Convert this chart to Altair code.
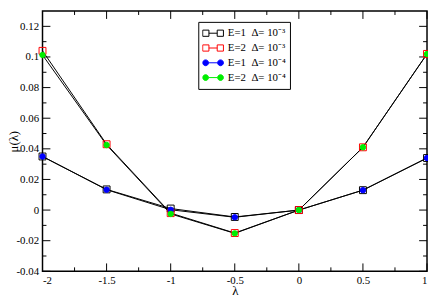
import altair as alt
import pandas as pd

# ---- data ----
lam = [-2.0, -1.5, -1.0, -0.5, 0.0, 0.5, 1.0]
series_names = [
    "E=1\u00a0\u00a0\u0394=\u00a010\u207b\u00b3",
    "E=2\u00a0\u00a0\u0394=\u00a010\u207b\u00b3",
    "E=1\u00a0\u00a0\u0394=\u00a010\u207b\u2074",
    "E=2\u00a0\u00a0\u0394=\u00a010\u207b\u2074",
]
mu_e1_d3 = [0.0350, 0.0135, 0.0010, -0.0045, 0.0, 0.0130, 0.0340]
mu_e2_d3 = [0.1040, 0.0430, -0.0020, -0.0150, 0.0, 0.0410, 0.1020]
mu_e1_d4 = [0.0350, 0.0133, 0.0002, -0.0047, 0.0, 0.0130, 0.0340]
mu_e2_d4 = [0.1013, 0.0425, -0.0025, -0.0152, 0.0, 0.0410, 0.1019]

x_major = [-2, -1.5, -1, -0.5, 0, 0.5, 1]
x_minor = [-1.75, -1.25, -0.75, -0.25, 0.25, 0.75]
y_major = [-0.04, -0.02, 0, 0.02, 0.04, 0.06, 0.08, 0.1, 0.12]
y_minor = [-0.03, -0.01, 0.01, 0.03, 0.05, 0.07, 0.09, 0.11]

stroke_colors = ["#000000", "#ff0000", "#0000ff", "#00ee00"]
fill_colors = ["transparent", "transparent", "#0000ff", "#00ee00"]

rows = []
for name, vals in zip(series_names, [mu_e1_d3, mu_e2_d3, mu_e1_d4, mu_e2_d4]):
    for l, v in zip(lam, vals):
        rows.append({"lam": l, "mu": v, "series": name})
df = pd.DataFrame(rows)

W, H = 390, 264
FONT = "Liberation Serif, Times New Roman, serif"

xs = alt.Scale(domain=[-2, 1], nice=False, zero=False)
ys = alt.Scale(domain=[-0.04, 0.13], nice=False, zero=False)

x_axis = alt.Axis(
    values=x_major, ticks=False, domain=False, grid=False,
    labelExpr="datum.value + ''", labelFont=FONT, labelFontSize=11,
    labelColor="black", labelPadding=3, title="\u03bb", titleFont=FONT,
    titleFontSize=13, titleFontWeight="normal", titleColor="black", titlePadding=0)
y_axis = alt.Axis(
    values=y_major, ticks=False, domain=False, grid=False,
    labelExpr="datum.value + ''", labelFont=FONT, labelFontSize=11,
    labelColor="black", labelPadding=4, title="\u03bc(\u03bb)", titleFont=FONT,
    titleFontSize=13, titleFontWeight="normal", titleColor="black",
    titleX=-22, titleY=H / 2, titleAngle=270, titleAlign="center", titleBaseline="bottom")

sq_path = "M-1,-0.3H-0.4V0.3H-1ZM-0.4,0H0.4M0.4,-0.3H1V0.3H0.4Z"
ci_path = ("M-1,0A0.28,0.28,0,1,0,-0.44,0A0.28,0.28,0,1,0,-1,0Z"
           "M-0.44,0H0.44"
           "M0.44,0A0.28,0.28,0,1,0,1,0A0.28,0.28,0,1,0,0.44,0Z")

legend = alt.Legend(
    title=None, orient="none", legendX=158, legendY=11,
    strokeColor="black", fillColor="white", padding=4,
    labelFont=FONT, labelFontSize=11, labelColor="black", labelOffset=4,
    symbolSize=441, symbolStrokeWidth=1, clipHeight=15, rowPadding=0,
    symbolType=alt.ExprRef(expr="datum.index < 2 ? '" + sq_path + "' : '" + ci_path + "'"),
)

stroke_enc = alt.Stroke("series:N", scale=alt.Scale(domain=series_names, range=stroke_colors), legend=legend)
fill_enc = alt.Fill("series:N", scale=alt.Scale(domain=series_names, range=fill_colors), legend=legend)

X = lambda f: alt.X(f, scale=xs, axis=x_axis)
Y = lambda f: alt.Y(f, scale=ys, axis=y_axis)

base = alt.Chart(df)

lines = base.mark_line(color="black", strokeWidth=1).encode(
    x=X("lam:Q"), y=Y("mu:Q"), detail="series:N",
)

squares = base.transform_filter(
    alt.FieldOneOfPredicate(field="series", oneOf=series_names[:2])
).mark_point(shape="square", filled=False, size=49, strokeWidth=1, opacity=1).encode(
    x=X("lam:Q"), y=Y("mu:Q"), stroke=stroke_enc, fill=fill_enc,
)

circles = base.transform_filter(
    alt.FieldOneOfPredicate(field="series", oneOf=series_names[2:])
).mark_point(shape="circle", filled=True, size=30, strokeWidth=1, opacity=1).encode(
    x=X("lam:Q"), y=Y("mu:Q"), stroke=stroke_enc, fill=fill_enc,
)

def xticks(vals, length, top):
    d = pd.DataFrame({"v": vals})
    y0 = 0 if top else H
    y1 = length if top else H - length
    return alt.Chart(d).mark_rule(color="black", strokeWidth=1).encode(
        x=X("v:Q"), y=alt.value(y0), y2=alt.value(y1))

def yticks(vals, length, right):
    d = pd.DataFrame({"v": vals})
    x0 = W if right else 0
    x1 = W - length if right else length
    return alt.Chart(d).mark_rule(color="black", strokeWidth=1).encode(
        y=Y("v:Q"), x=alt.value(x0), x2=alt.value(x1))

tick_layers = [
    xticks(x_major, 8, False), xticks(x_minor, 4, False),
    xticks(x_major, 8, True), xticks(x_minor, 4, True),
    yticks(y_major, 8, False), yticks(y_minor, 4, False),
    yticks(y_major, 8, True), yticks(y_minor, 4, True),
]

chart = alt.layer(lines, *tick_layers, squares, circles).properties(
    width=W, height=H,
    padding={"left": 35, "top": 1, "right": 1, "bottom": 26},
    autosize=alt.AutoSizeParams(type="none"),
    background="white",
).configure_view(stroke="black", strokeWidth=1.5)

chart.save("out.html", embed_options={"renderer": "svg", "actions": False})
